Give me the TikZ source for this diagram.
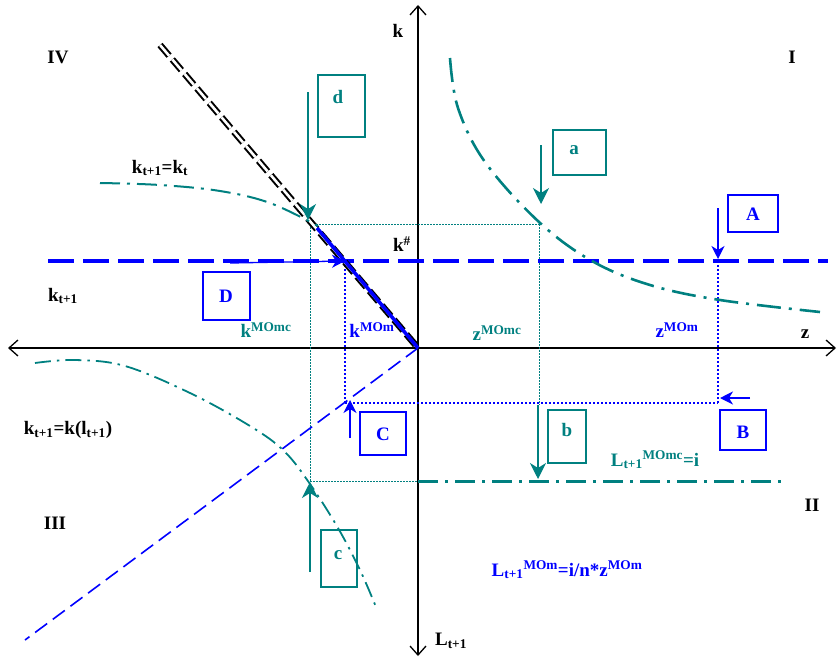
\documentclass[tikz,border=0pt]{standalone}
\usepackage{fontspec}
\setmainfont{Liberation Serif}
\usetikzlibrary{arrows.meta}
\definecolor{tealc}{RGB}{0,128,128}
\definecolor{blu}{RGB}{0,0,255}
\begin{document}
\begin{tikzpicture}[x=1pt,y=-1pt,
  lbl/.style={font=\fontsize{19}{22}\selectfont\bfseries, inner sep=0pt},
  tbox/.style={draw=tealc, line width=1.2pt, inner sep=0pt},
  bbox/.style={draw=blu, line width=1.2pt, inner sep=0pt},
  tlet/.style={lbl, text=tealc},
  blet/.style={lbl, text=blu},
  axis/.style={line width=1.3pt, draw=black},
  axtip/.style={-{Straight Barb[length=9pt,width=16pt,line width=1.3pt]}},
  tarrow/.style={draw=tealc, line width=1.3pt, -{Stealth[length=16pt,width=16pt,inset=5pt]}},
  barrow/.style={draw=blu, line width=1.3pt, -{Stealth[length=13pt,width=13pt,inset=4pt]}},
  tdot/.style={draw=tealc, line width=1pt, dash pattern=on 1.5pt off 1.5pt},
  bdot/.style={draw=blu, line width=1.8pt, dash pattern=on 2pt off 2pt},
  tdashdot/.style={draw=tealc, dash pattern=on 20pt off 7pt on 3pt off 7pt},
]
\useasboundingbox (0,0) rectangle (838,661);

% coordinates
\coordinate (O) at (418,348);
\coordinate (xl) at (8,348);
\coordinate (xr) at (836,348);
\coordinate (yt) at (418,5);
\coordinate (yb) at (418,656);
\coordinate (diagT) at (160,45);
\coordinate (blueS) at (317,228);
\coordinate (Pa) at (539,224);
\coordinate (Pb) at (539,405);
\coordinate (Pc) at (310,481);
\coordinate (Pci) at (418,481);
\coordinate (Pend) at (785,481);
\coordinate (Pd) at (310,224);
\coordinate (hl) at (48,261);
\coordinate (hr) at (828,261);
\coordinate (PK) at (345,261);
\coordinate (PC) at (345,403);
\coordinate (PA) at (718,261);
\coordinate (PB) at (718,403);
\coordinate (q3end) at (25,640);

% axes
\draw[axis,axtip] (O) -- (xl);
\draw[axis,axtip] (O) -- (xr);
\draw[axis,axtip] (O) -- (yt);
\draw[axis,axtip] (O) -- (yb);

% dotted guide lines
\draw[tdot] (Pd) -- (Pa);
\draw[tdot] (Pa) -- (Pb);
\draw[tdot] (Pd) -- (Pc);
\draw[tdot] (Pc) -- (Pci);
\draw[bdot] (PK) -- (PC);
\draw[bdot] (PC) -- (PB);
\draw[bdot] (PA) -- (PB);

% blue thick dashed horizontal
\draw[draw=blu, line width=4pt, dash pattern=on 26pt off 9pt] (hl) -- (hr);

% black double dashed diagonal
\draw[draw=black, line width=2pt, double=white, double distance=2.6pt, dash pattern=on 14pt off 5pt] (diagT) -- (O);
\draw[draw=blu, line width=3.5pt] (blueS) -- (O);

% blue dashed diagonal in III
\draw[draw=blu, line width=1.6pt, dash pattern=on 15pt off 7pt] (O) -- (q3end);

% teal dash-dot horizontal in II
\draw[tdashdot, line width=3pt] (Pci) -- (Pend);

% curves
\draw[tdashdot, line width=2.6pt, dash pattern=on 24pt off 8pt on 3pt off 8pt]
  plot[smooth, tension=0.6] coordinates {(450,58) (458,108) (485,162) (539,222) (592,261) (650,285) (720,300) (820,312)};
\draw[tdashdot, line width=2pt]
  plot[smooth, tension=0.6] coordinates {(100,183) (160,185) (220,191) (270,203) (318,226)};
\draw[tdashdot, line width=1.8pt, dash pattern=on 16pt off 6pt on 2.5pt off 6pt]
  plot[smooth, tension=0.6] coordinates {(35,363) (75,360) (125,366) (190,393) (250,426) (284,451) (310,484) (338,528) (360,570) (376,607)};

% blue thin arrow along the horizontal to K point
\coordinate (hlArrowS) at (230,263);
\draw[barrow] (hlArrowS) -- (PK);

% boxes (teal)
\node[tbox, minimum width=53pt, minimum height=45pt] (boxa) at (579.5,152.5) {};
\node[tlet] (la) at (574,150) {a};
\node[tbox, minimum width=38pt, minimum height=53pt] (boxb) at (567,436.5) {};
\node[tlet] (lb) at (567,430) {b};
\node[tbox, minimum width=36pt, minimum height=57pt] (boxc) at (339,558.5) {};
\node[tlet] (lc) at (338,555) {c};
\node[tbox, minimum width=47pt, minimum height=62pt] (boxd) at (341.5,106) {};
\node[tlet] (ld) at (338,97) {d};

% boxes (blue)
\node[bbox, minimum width=50pt, minimum height=37pt] (boxA) at (753,213.5) {};
\node[blet] (lA) at (753,214) {A};
\node[bbox, minimum width=46pt, minimum height=40pt] (boxB) at (743,430) {};
\node[blet] (lB) at (743,432) {B};
\node[bbox, minimum width=46pt, minimum height=43pt] (boxC) at (383,433.5) {};
\node[blet] (lC) at (383,434) {C};
\node[bbox, minimum width=47pt, minimum height=48pt] (boxD) at (226.5,296) {};
\node[blet] (lD) at (226,296) {D};

% teal arrows
\coordinate (aS) at (541,145); \coordinate (aE) at (541,204);
\draw[tarrow] (aS) -- (aE);
\coordinate (bS) at (538,405); \coordinate (bE) at (538,479);
\draw[tarrow] (bS) -- (bE);
\coordinate (cS) at (310,572); \coordinate (cE) at (310,482);
\draw[tarrow] (cS) -- (cE);
\coordinate (dS) at (308,92); \coordinate (dE) at (308,220);
\draw[tarrow] (dS) -- (dE);

% blue arrows
\coordinate (AS) at (718,208); \coordinate (AE) at (718,259);
\draw[barrow] (AS) -- (AE);
\coordinate (BS) at (750,398); \coordinate (BE) at (720,398);
\draw[barrow] (BS) -- (BE);
\coordinate (CS) at (350,438); \coordinate (CE) at (350,400);
\draw[barrow] (CS) -- (CE);

% axis labels and quadrant numerals
\node[lbl] (lk) at (398,31) {k};
\node[lbl] (lz) at (805,334) {z};
\node[lbl] (lL) at (451,641) {L\textsubscript{t+1}};
\node[lbl] (qI) at (792,57) {I};
\node[lbl] (qIV) at (58,57) {IV};
\node[lbl] (qII) at (812,505) {II};
\node[lbl] (qIII) at (55,523) {III};

% curve / line labels
\node[lbl] (lkk) at (160,168) {k\textsubscript{t+1}=k\textsubscript{t}};
\node[lbl] (lkt) at (63,296) {k\textsubscript{t+1}};
\node[lbl] (lkl) at (68,430) {k\textsubscript{t+1}=k(l\textsubscript{t+1})};
\node[lbl] (lks) at (402,244) {k\textsuperscript{\#}};
\node[lbl, text=tealc] (lkmc) at (266,330) {k\textsuperscript{MOmc}};
\node[lbl, text=blu] (lkm) at (372,330) {k\textsuperscript{MOm}};
\node[lbl, text=tealc] (lzmc) at (497,333) {z\textsuperscript{MOmc}};
\node[lbl, text=blu] (lzm) at (677,330) {z\textsuperscript{MOm}};
\node[lbl, text=tealc] (lLmc) at (655,460) {L\textsubscript{t+1}\textsuperscript{MOmc}=i};
\node[lbl, text=blu] (lLm) at (567,570) {L\textsubscript{t+1}\textsuperscript{MOm}=i/n*z\textsuperscript{MOm}};
\end{tikzpicture}
\end{document}
